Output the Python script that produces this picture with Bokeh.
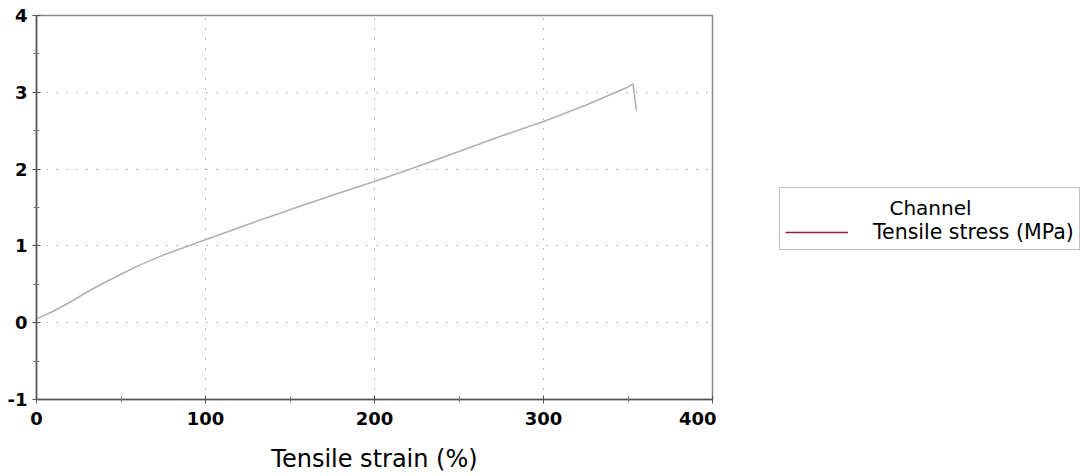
from bokeh.plotting import figure
from bokeh.models import FixedTicker, Legend, LegendItem, Range1d, ColumnDataSource
from bokeh.core.properties import value
from bokeh.layouts import row
from bokeh.embed import file_html
from bokeh.resources import INLINE

# data
strain = [0, 10, 20, 30, 40, 50, 60, 75, 100, 125, 150, 175, 200, 225, 250, 275, 300, 325, 350, 353, 355]
stress = [0.05, 0.15, 0.27, 0.40, 0.52, 0.63, 0.74, 0.88, 1.08, 1.28, 1.47, 1.66, 1.84, 2.03, 2.23, 2.43, 2.62, 2.83, 3.07, 3.11, 2.76]
x_ticks = [0, 100, 200, 300, 400]
x_minor = [50, 150, 250, 350]
y_ticks = [-1, 0, 1, 2, 3, 4]
y_minor = [-0.5, 0.5, 1.5, 2.5, 3.5]
y_tick_labels = {-1: "-1"}
series_name = "Tensile stress (MPa)"
legend_title = "Channel"
x_title = "Tensile strain (%)"

p = figure(width=716, height=476, output_backend="svg", toolbar_location=None,
           x_range=Range1d(0, 400), y_range=Range1d(-1, 4),
           min_border_left=36, min_border_right=4, min_border_top=15, min_border_bottom=77)
p.background_fill_color = "white"
p.border_fill_color = "white"
p.outline_line_color = "#888888"
p.outline_line_width = 1.5

src = ColumnDataSource(dict(x=strain, y=stress))
p.line("x", "y", source=src, line_color="#b0b0b0", line_width=1.6)

for ax in (p.xaxis[0], p.yaxis[0]):
    ax.axis_line_color = "#555555"
    ax.axis_line_width = 1.5
    ax.major_tick_line_color = "#555555"
    ax.minor_tick_line_color = "#777777"
    ax.major_tick_in = 4
    ax.major_tick_out = 4
    ax.minor_tick_in = 3
    ax.minor_tick_out = 3
    ax.major_label_text_font = "DejaVu Sans"
    ax.major_label_text_font_style = "bold"
    ax.major_label_text_font_size = "18px"
    ax.major_label_text_color = "black"

p.xaxis[0].ticker = FixedTicker(ticks=x_ticks, minor_ticks=x_minor)
p.yaxis[0].ticker = FixedTicker(ticks=y_ticks, minor_ticks=y_minor)
p.yaxis[0].major_label_overrides = y_tick_labels
p.xaxis[0].major_label_standoff = 8
p.yaxis[0].major_label_standoff = 5
p.xaxis[0].axis_label = x_title
p.xaxis[0].axis_label_text_font = "DejaVu Sans"
p.xaxis[0].axis_label_text_font_style = "normal"
p.xaxis[0].axis_label_text_font_size = "24px"
p.xaxis[0].axis_label_text_color = "black"
p.xaxis[0].axis_label_standoff = 17

for g in (p.xgrid[0], p.ygrid[0]):
    g.grid_line_color = "#777777"
    g.grid_line_width = 1
    g.grid_line_dash = "1 9"

# legend panel (frame aligned with the main plot's frame: 384 px tall, 366 px wide)
q = figure(width=366, height=476, output_backend="svg", toolbar_location=None,
           x_range=Range1d(0, 366), y_range=Range1d(0, 384),
           x_axis_location=None, y_axis_location=None,
           min_border=0, min_border_left=0, min_border_right=0, min_border_top=0, min_border_bottom=0)
q.outline_line_color = None
q.grid.visible = False
q.background_fill_color = "white"
q.border_fill_color = "white"
dummy = q.line(x=[-10, -9], y=[-10, -10], line_color="#8b2040", line_width=1.5)
q.text(x=[214], y=[192], text=[legend_title], text_align="center", text_baseline="middle",
       text_font=value("DejaVu Sans"), text_font_size="20px", text_color="black")

legend = Legend(items=[LegendItem(label=series_name, renderers=[dummy])],
                location=(63, 149), title="\u00a0",
                title_text_font="DejaVu Sans", title_text_font_size="20px",
                title_text_font_style="normal", title_text_color="black",
                label_text_font="DejaVu Sans", label_text_font_size="20.5px",
                label_text_color="black",
                glyph_width=63, label_standoff=25, padding=5, margin=0,
                border_line_color="#888888", border_line_width=1.5,
                background_fill_alpha=0.0,
                title_standoff=3, spacing=0)
q.add_layout(legend, "center")

layout = row(p, q, spacing=0)
open("out.html", "w").write(file_html(layout, INLINE))
